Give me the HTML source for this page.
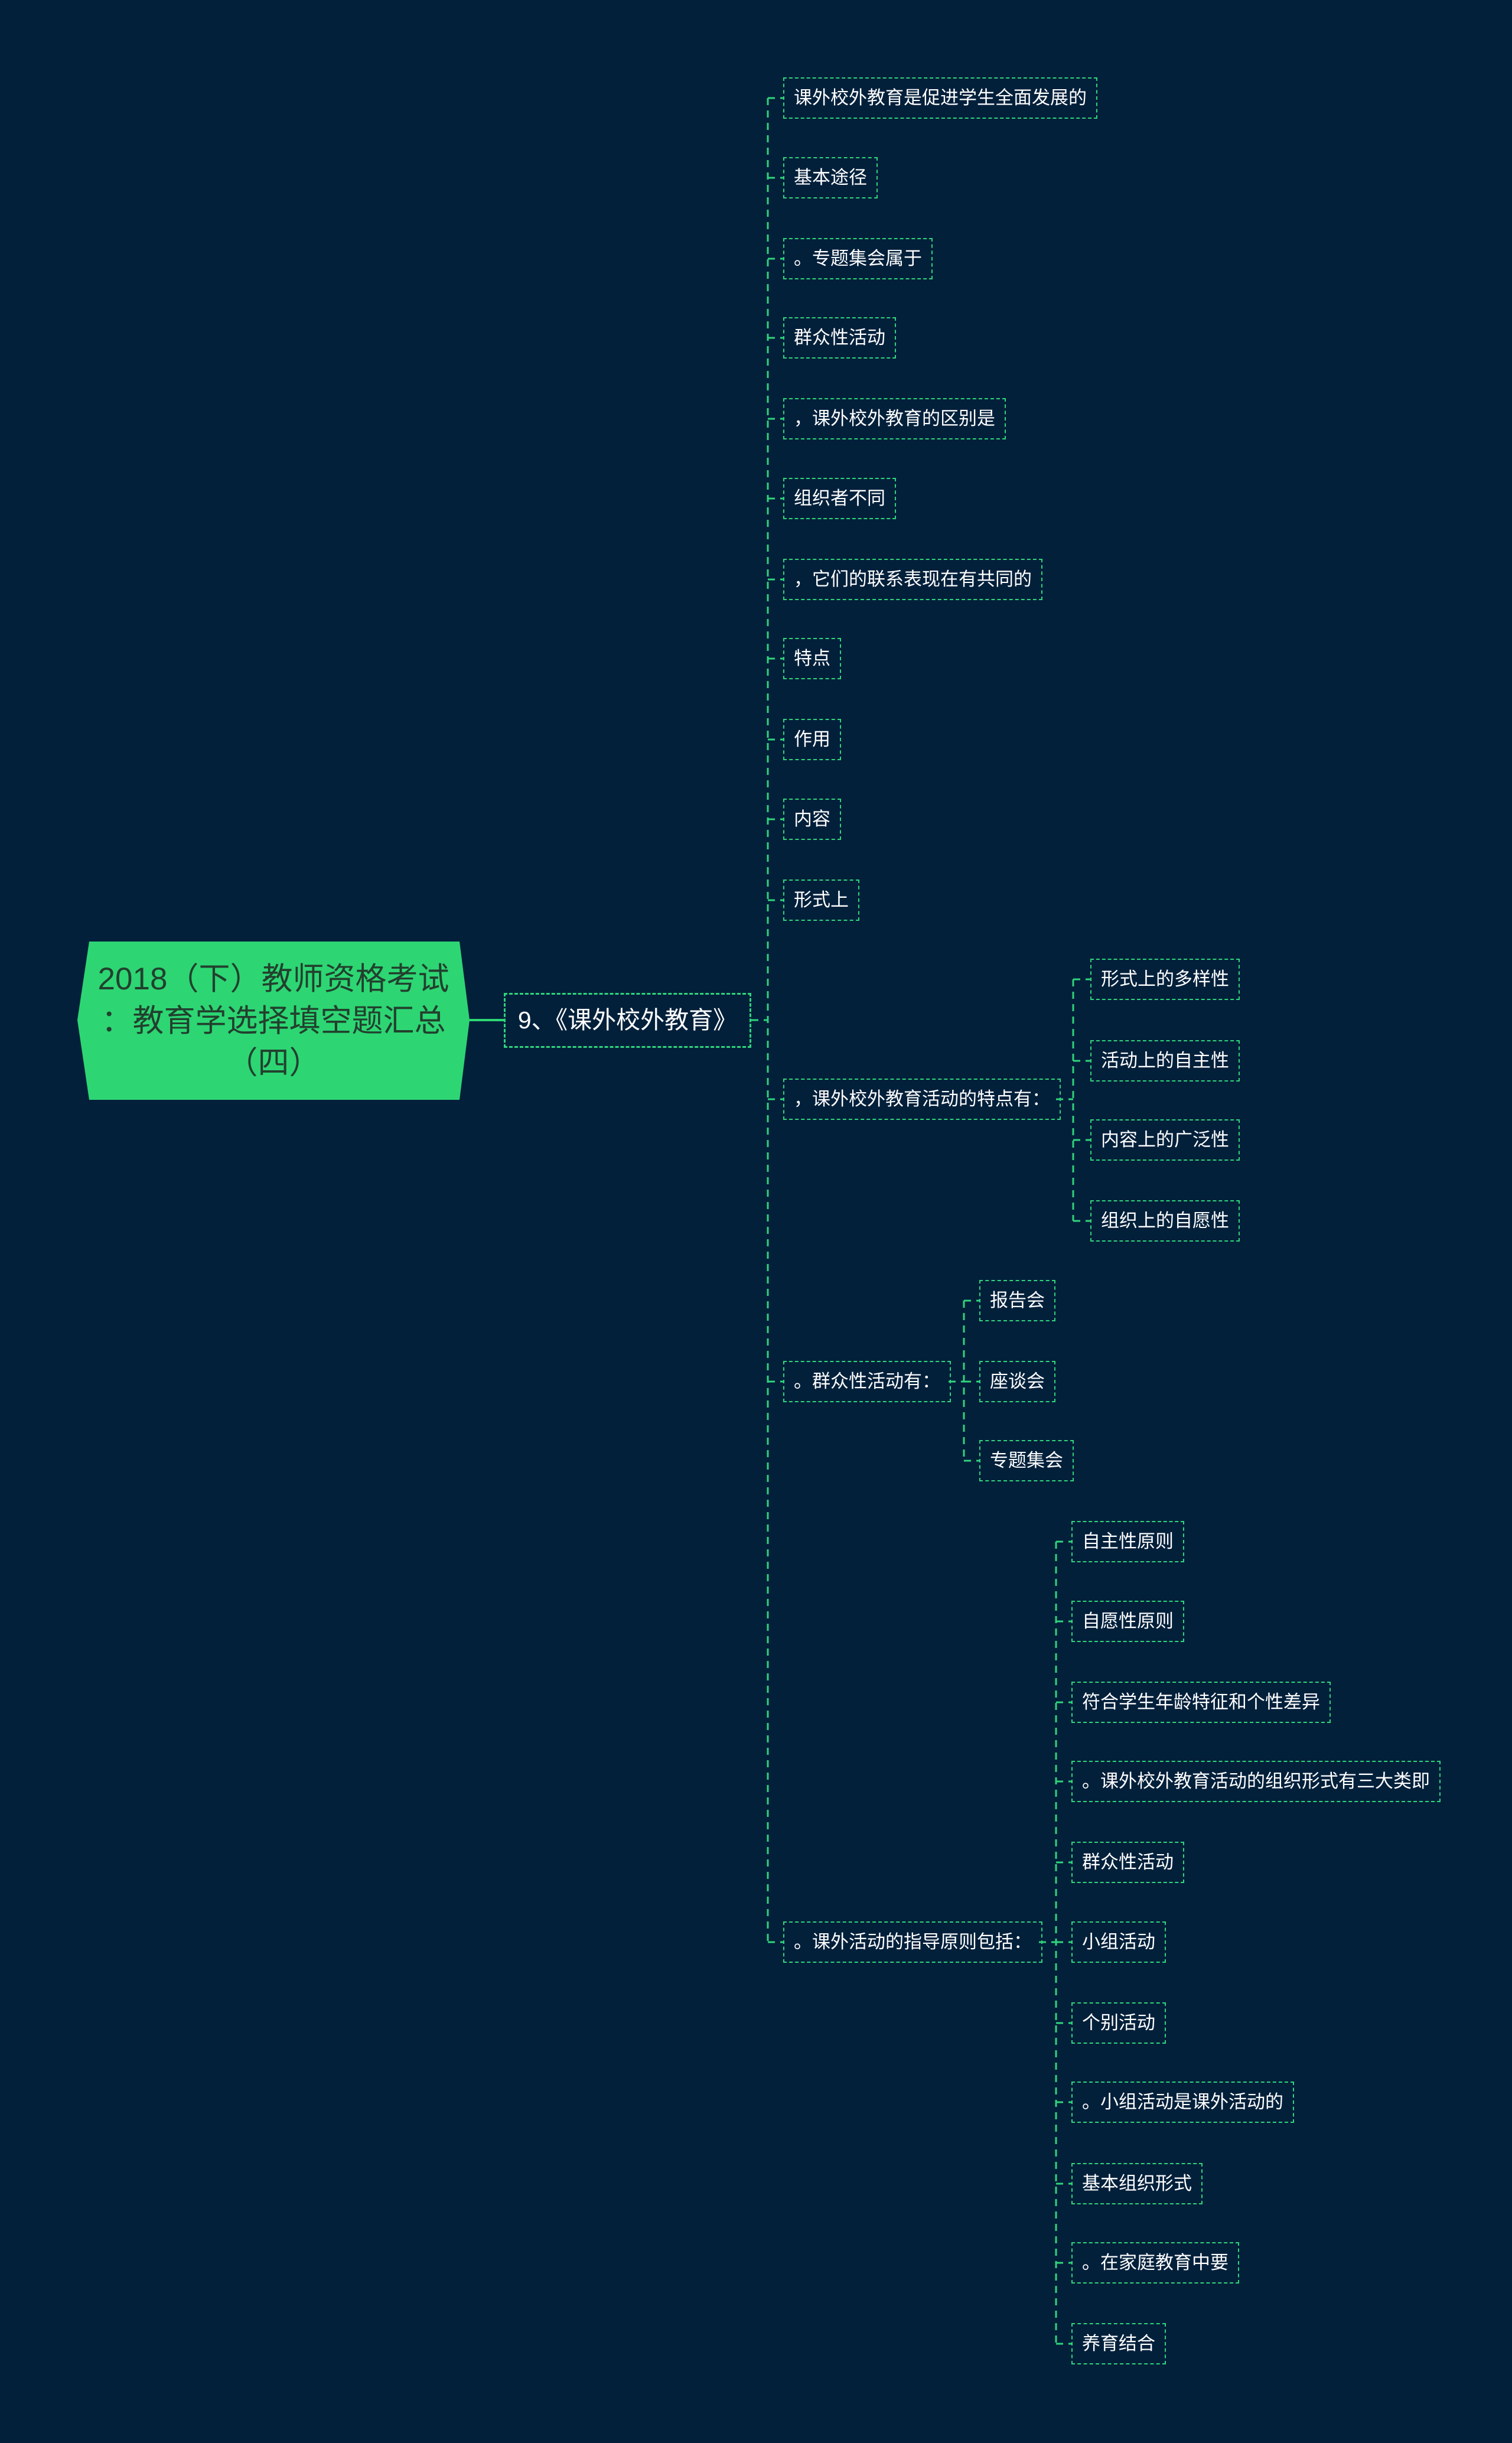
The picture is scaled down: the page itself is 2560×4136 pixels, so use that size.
<!DOCTYPE html>
<html><head><meta charset="utf-8"><style>
html,body{margin:0;padding:0}
body{width:2560px;height:4136px;background:#03203b;position:relative;overflow:hidden;font-family:"Liberation Sans","Noto Sans CJK SC",sans-serif}
.n{position:absolute;height:70px;box-sizing:border-box;border:2px dashed #2fd57a;color:#fff;font-size:31px;line-height:66px;padding:0 16px;white-space:nowrap}
.l1{position:absolute;left:853px;top:1681px;width:419px;height:93px;box-sizing:border-box;border:3px dashed #2fd57a;color:#fff;font-size:41px;line-height:87px;text-align:center;white-space:nowrap}
.root{position:absolute;left:131px;top:1594px;width:664px;height:268px;display:flex;align-items:center;justify-content:center;text-align:center;color:#22402e;font-size:53px;line-height:71px}
</style></head><body>
<svg width="2560" height="4136" style="position:absolute;left:0;top:0">
<polygon points="151,1594 778,1594 795,1727 778,1862 151,1862 131,1727" fill="#2dd673"/>
<line x1="795" y1="1727" x2="853" y2="1727" stroke="#2dd673" stroke-width="4"/>
<g stroke="#2fd57a" stroke-width="3" stroke-dasharray="12 9" fill="none">
<line x1="1272" y1="1727" x2="1300" y2="1727"/>
<line x1="1300" y1="166" x2="1300" y2="3288"/>
<line x1="1300" y1="166" x2="1326" y2="166"/>
<line x1="1300" y1="301" x2="1326" y2="301"/>
<line x1="1300" y1="438" x2="1326" y2="438"/>
<line x1="1300" y1="572" x2="1326" y2="572"/>
<line x1="1300" y1="709" x2="1326" y2="709"/>
<line x1="1300" y1="844" x2="1326" y2="844"/>
<line x1="1300" y1="981" x2="1326" y2="981"/>
<line x1="1300" y1="1115" x2="1326" y2="1115"/>
<line x1="1300" y1="1252" x2="1326" y2="1252"/>
<line x1="1300" y1="1387" x2="1326" y2="1387"/>
<line x1="1300" y1="1524" x2="1326" y2="1524"/>
<line x1="1300" y1="1861" x2="1326" y2="1861"/>
<line x1="1300" y1="2339" x2="1326" y2="2339"/>
<line x1="1300" y1="3288" x2="1326" y2="3288"/>
<line x1="1788" y1="1861" x2="1817" y2="1861"/>
<line x1="1817" y1="1658" x2="1817" y2="2067"/>
<line x1="1817" y1="1658" x2="1846" y2="1658"/>
<line x1="1817" y1="1796" x2="1846" y2="1796"/>
<line x1="1817" y1="1930" x2="1846" y2="1930"/>
<line x1="1817" y1="2067" x2="1846" y2="2067"/>
<line x1="1606" y1="2339" x2="1632" y2="2339"/>
<line x1="1632" y1="2202" x2="1632" y2="2473"/>
<line x1="1632" y1="2202" x2="1658" y2="2202"/>
<line x1="1632" y1="2339" x2="1658" y2="2339"/>
<line x1="1632" y1="2473" x2="1658" y2="2473"/>
<line x1="1759" y1="3288" x2="1788" y2="3288"/>
<line x1="1788" y1="2610" x2="1788" y2="3968"/>
<line x1="1788" y1="2610" x2="1814" y2="2610"/>
<line x1="1788" y1="2745" x2="1814" y2="2745"/>
<line x1="1788" y1="2882" x2="1814" y2="2882"/>
<line x1="1788" y1="3016" x2="1814" y2="3016"/>
<line x1="1788" y1="3153" x2="1814" y2="3153"/>
<line x1="1788" y1="3288" x2="1814" y2="3288"/>
<line x1="1788" y1="3425" x2="1814" y2="3425"/>
<line x1="1788" y1="3559" x2="1814" y2="3559"/>
<line x1="1788" y1="3697" x2="1814" y2="3697"/>
<line x1="1788" y1="3831" x2="1814" y2="3831"/>
<line x1="1788" y1="3968" x2="1814" y2="3968"/>
</g>
</svg>
<div class="root">2018（下）教师资格考试<br>：教育学选择填空题汇总<br>（四）</div>
<div class="l1">9、《课外校外教育》</div>

<div class="n" style="left:1326px;top:131px">课外校外教育是促进学生全面发展的</div>
<div class="n" style="left:1326px;top:266px">基本途径</div>
<div class="n" style="left:1326px;top:403px">。专题集会属于</div>
<div class="n" style="left:1326px;top:537px">群众性活动</div>
<div class="n" style="left:1326px;top:674px">，课外校外教育的区别是</div>
<div class="n" style="left:1326px;top:809px">组织者不同</div>
<div class="n" style="left:1326px;top:946px">，它们的联系表现在有共同的</div>
<div class="n" style="left:1326px;top:1080px">特点</div>
<div class="n" style="left:1326px;top:1217px">作用</div>
<div class="n" style="left:1326px;top:1352px">内容</div>
<div class="n" style="left:1326px;top:1489px">形式上</div>
<div class="n" style="left:1326px;top:1826px">，课外校外教育活动的特点有：</div>
<div class="n" style="left:1326px;top:2304px">。群众性活动有：</div>
<div class="n" style="left:1326px;top:3253px">。课外活动的指导原则包括：</div>

<div class="n" style="left:1846px;top:1623px">形式上的多样性</div>
<div class="n" style="left:1846px;top:1761px">活动上的自主性</div>
<div class="n" style="left:1846px;top:1895px">内容上的广泛性</div>
<div class="n" style="left:1846px;top:2032px">组织上的自愿性</div>

<div class="n" style="left:1658px;top:2167px">报告会</div>
<div class="n" style="left:1658px;top:2304px">座谈会</div>
<div class="n" style="left:1658px;top:2438px">专题集会</div>

<div class="n" style="left:1814px;top:2575px">自主性原则</div>
<div class="n" style="left:1814px;top:2710px">自愿性原则</div>
<div class="n" style="left:1814px;top:2847px">符合学生年龄特征和个性差异</div>
<div class="n" style="left:1814px;top:2981px">。课外校外教育活动的组织形式有三大类即</div>
<div class="n" style="left:1814px;top:3118px">群众性活动</div>
<div class="n" style="left:1814px;top:3253px">小组活动</div>
<div class="n" style="left:1814px;top:3390px">个别活动</div>
<div class="n" style="left:1814px;top:3524px">。小组活动是课外活动的</div>
<div class="n" style="left:1814px;top:3662px">基本组织形式</div>
<div class="n" style="left:1814px;top:3796px">。在家庭教育中要</div>
<div class="n" style="left:1814px;top:3933px">养育结合</div>
</body></html>
